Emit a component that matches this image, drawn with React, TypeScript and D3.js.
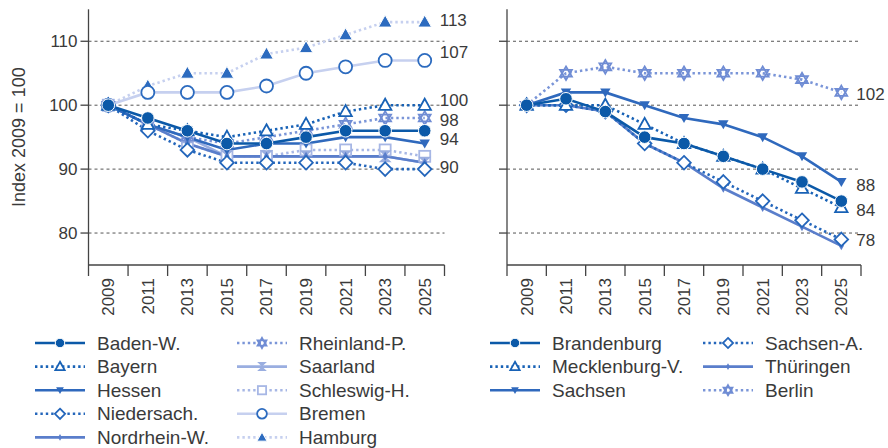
import React from 'react';
import * as d3 from 'd3';

// years on the x axis
const years = [2009, 2011, 2013, 2015, 2017, 2019, 2021, 2023, 2025];
const yTicks = [80, 90, 100, 110];

// west / city states
const badenW = [100, 98, 96, 94, 94, 95, 96, 96, 96];
const bayern = [100, 97, 96, 95, 96, 97, 99, 100, 100];
const hessen = [100, 97, 95, 93, 94, 94, 95, 95, 94];
const niedersach = [100, 96, 93, 91, 91, 91, 91, 90, 90];
const nordrheinW = [100, 97, 94, 92, 92, 92, 92, 92, 91];
const rheinlandP = [100, 97, 95, 94, 95, 96, 97, 98, 98];
const saarland = [100, 97, 95, 92, 92, 92, 92, 92, 91];
const schleswigH = [100, 97, 94, 92, 92, 93, 93, 93, 92];
const bremen = [100, 102, 102, 102, 103, 105, 106, 107, 107];
const hamburg = [100, 103, 105, 105, 108, 109, 111, 113, 113];

// east
const brandenburg = [100, 101, 99, 95, 94, 92, 90, 88, 85];
const mecklenburgV = [100, 100, 100, 97, 94, 92, 90, 87, 84];
const sachsen = [100, 102, 102, 100, 98, 97, 95, 92, 88];
const sachsenA = [100, 100, 99, 94, 91, 88, 85, 82, 79];
const thueringen = [100, 100, 99, 94, 91, 87, 84, 81, 78];
const berlin = [100, 105, 106, 105, 105, 105, 105, 104, 102];

const westLabels = [113, 107, 100, 98, 94, 90];
const eastLabels = [102, 88, 84, 78];

type Series = {
  name: string;
  values: number[];
  line: string;
  mark: string;
  dotted: boolean;
  marker: string;
};

const west: Series[] = [
  { name: 'Baden-W.', values: badenW, line: '#0b59a8', mark: '#0b59a8', dotted: false, marker: 'circle' },
  { name: 'Bayern', values: bayern, line: '#1862b6', mark: '#1862b6', dotted: true, marker: 'triangleOpen' },
  { name: 'Hessen', values: hessen, line: '#2f69bd', mark: '#2f69bd', dotted: false, marker: 'triangleDown' },
  { name: 'Niedersach.', values: niedersach, line: '#2466bb', mark: '#2466bb', dotted: true, marker: 'diamond' },
  { name: 'Nordrhein-W.', values: nordrheinW, line: '#5a7ecb', mark: '#5a7ecb', dotted: false, marker: 'smallDiamond' },
  { name: 'Rheinland-P.', values: rheinlandP, line: '#7a95d8', mark: '#6f8cd4', dotted: true, marker: 'hexagram' },
  { name: 'Saarland', values: saarland, line: '#9aaee0', mark: '#9aaee0', dotted: false, marker: 'hourglass' },
  { name: 'Schleswig-H.', values: schleswigH, line: '#a7b7e5', mark: '#a7b7e5', dotted: true, marker: 'square' },
  { name: 'Bremen', values: bremen, line: '#c6d0ef', mark: '#2c6bbf', dotted: false, marker: 'circleOpen' },
  { name: 'Hamburg', values: hamburg, line: '#c6d0ef', mark: '#2c6bbf', dotted: true, marker: 'triangle' },
];

const east: Series[] = [
  { name: 'Brandenburg', values: brandenburg, line: '#0b59a8', mark: '#0b59a8', dotted: false, marker: 'circle' },
  { name: 'Mecklenburg-V.', values: mecklenburgV, line: '#1862b6', mark: '#1862b6', dotted: true, marker: 'triangleOpen' },
  { name: 'Sachsen', values: sachsen, line: '#2f69bd', mark: '#2f69bd', dotted: false, marker: 'triangleDown' },
  { name: 'Sachsen-A.', values: sachsenA, line: '#2466bb', mark: '#2466bb', dotted: true, marker: 'diamond' },
  { name: 'Thüringen', values: thueringen, line: '#5a7ecb', mark: '#5a7ecb', dotted: false, marker: 'smallDiamond' },
  { name: 'Berlin', values: berlin, line: '#7a95d8', mark: '#6f8cd4', dotted: true, marker: 'hexagram' },
];

const FONT = 'Liberation Sans, Arial, sans-serif';
const TXT = '#3a3a3a';
const DASH = '2.4 3';

const y = d3.scaleLinear().domain([75, 115]).range([265, 9.3]);

function Marker({ type, color, s = 1 }: { type: string; color: string; s?: number }) {
  const open = { fill: '#fff', stroke: color, strokeWidth: 1.8 };
  const solid = { fill: color, stroke: '#fff', strokeWidth: 1 };
  switch (type) {
    case 'circle':
      return <circle r={6.3 * s} {...solid} />;
    case 'circleOpen':
      return <circle r={6.5 * s} {...open} />;
    case 'triangle':
      return <path d={`M0,${-7 * s}L${6.8 * s},${5 * s}L${-6.8 * s},${5 * s}Z`} {...solid} />;
    case 'triangleOpen':
      return <path d={`M0,${-6.5 * s}L${6.2 * s},${4.6 * s}L${-6.2 * s},${4.6 * s}Z`} {...open} />;
    case 'triangleDown':
      return <path d={`M${-5.2 * s},${-4 * s}L${5.2 * s},${-4 * s}L0,${5 * s}Z`} fill={color} stroke="none" />;
    case 'diamond':
      return <path d={`M0,${-6.8 * s}L${6.8 * s},0L0,${6.8 * s}L${-6.8 * s},0Z`} {...open} />;
    case 'smallDiamond':
      return <path d={`M0,${-4.5 * s}L${2.6 * s},0L0,${4.5 * s}L${-2.6 * s},0Z`} fill={color} stroke="none" />;
    case 'hexagram':
      return (
        <path
          d={`M0,${-6.8 * s}L${5.9 * s},${3.4 * s}L${-5.9 * s},${3.4 * s}ZM0,${6.8 * s}L${5.9 * s},${-3.4 * s}L${-5.9 * s},${-3.4 * s}Z`}
          fill="none"
          stroke={color}
          strokeWidth={1.8}
        />
      );
    case 'hourglass':
      return <path d={`M${-6.5 * s},${-6 * s}L${6.5 * s},${-6 * s}L0,0L${6.5 * s},${6 * s}L${-6.5 * s},${6 * s}L0,0Z`} fill={color} stroke="none" />;
    case 'square':
      return <rect x={-5.5 * s} y={-5.5 * s} width={11 * s} height={11 * s} {...open} />;
    default:
      return null;
  }
}

function Panel({ series, x0, x1, showLabels, labels, labelDy }: {
  series: Series[]; x0: number; x1: number; showLabels: boolean; labels: number[]; labelDy: Record<number, number>;
}) {
  const x = d3.scaleBand<string>().domain(years.map(String)).range([x0, x1]);
  const bw = x.bandwidth();
  const cx = (yr: number) => (x(String(yr)) ?? 0) + bw / 2;
  const line = d3.line<number>().x((_, i) => cx(years[i])).y(d => y(d));
  const drawOrder = [...series].reverse();
  const bounds = d3.range(years.length + 1).map(i => x0 + i * bw);
  const lastX = cx(years[years.length - 1]);

  return (
    <g>
      {yTicks.map(t => (
        <line key={t} x1={x0} x2={x1} y1={y(t)} y2={y(t)} stroke="#555" strokeWidth={1} strokeDasharray="3 3" />
      ))}
      {drawOrder.map(s => (
        <path key={s.name} d={line(s.values) ?? ''} fill="none" stroke={s.line} strokeWidth={2.6}
          strokeDasharray={s.dotted ? DASH : undefined} />
      ))}
      {drawOrder.map(s => (
        <g key={s.name + 'm'}>
          {s.values.map((v, i) => (
            <g key={i} transform={`translate(${cx(years[i])},${y(v)})`}>
              <Marker type={s.marker} color={s.mark} />
            </g>
          ))}
        </g>
      ))}
      <line x1={x0} x2={x0} y1={y(115)} y2={y(75)} stroke="#444" strokeWidth={1.3} />
      <line x1={x0} x2={x1} y1={y(75)} y2={y(75)} stroke="#444" strokeWidth={1.3} />
      {yTicks.map(t => (
        <g key={t}>
          <line x1={x0 - 8} x2={x0} y1={y(t)} y2={y(t)} stroke="#444" strokeWidth={1.3} />
          {showLabels && (
            <text x={x0 - 11} y={y(t)} dy="0.35em" textAnchor="end" fontSize={17} fill={TXT} fontFamily={FONT}>{t}</text>
          )}
        </g>
      ))}
      {bounds.map((b, i) => (
        <line key={i} x1={b} x2={b} y1={y(75)} y2={y(75) + 11} stroke="#444" strokeWidth={1.3} />
      ))}
      {years.map(yr => (
        <text key={yr} transform={`translate(${cx(yr)},${y(75) + 13}) rotate(-90)`} dy="0.35em" textAnchor="end"
          fontSize={17} fill={TXT} fontFamily={FONT}>{yr}</text>
      ))}
      {labels.map(v => (
        <text key={v} x={lastX + 15} y={y(v) + (labelDy[v] ?? 0)} dy="0.35em" fontSize={17} fill={TXT} fontFamily={FONT}>{v}</text>
      ))}
    </g>
  );
}

function Legend({ series, x, rows, colGap }: { series: Series[]; x: number; rows: number; colGap: number }) {
  return (
    <g>
      {series.map((s, i) => {
        const col = Math.floor(i / rows);
        const row = i % rows;
        const lx = x + col * colGap;
        const ly = 343 + row * 23.6;
        return (
          <g key={s.name}>
            <line x1={lx} x2={lx + 50} y1={ly} y2={ly} stroke={s.line} strokeWidth={2.6}
              strokeDasharray={s.dotted ? DASH : undefined} />
            <g transform={`translate(${lx + 25},${ly})`}>
              <Marker type={s.marker} color={s.mark} s={0.75} />
            </g>
            <text x={lx + 62} y={ly} dy="0.35em" fontSize={19} fill={TXT} fontFamily={FONT}>{s.name}</text>
          </g>
        );
      })}
    </g>
  );
}

export default function App() {
  return (
    <svg width={888} height={448} style={{ position: 'absolute', left: 0, top: 0, background: '#fff' }}>
      <text transform={`translate(19,${y(95)}) rotate(-90)`} dy="0.35em" textAnchor="middle" fontSize={18}
        fill={TXT} fontFamily={FONT}>Index 2009 = 100</text>
      <Panel series={west} x0={88.5} x1={444.5} showLabels labels={westLabels}
        labelDy={{ 113: -2, 107: -8, 100: -5.5, 98: 2, 94: -4, 90: -2 }} />
      <Panel series={east} x0={507} x1={861} showLabels={false} labels={eastLabels}
        labelDy={{ 102: 2, 88: 3, 84: 3, 78: -6 }} />
      <Legend series={west} x={35} rows={5} colGap={202} />
      <Legend series={east} x={490} rows={3} colGap={213} />
    </svg>
  );
}
